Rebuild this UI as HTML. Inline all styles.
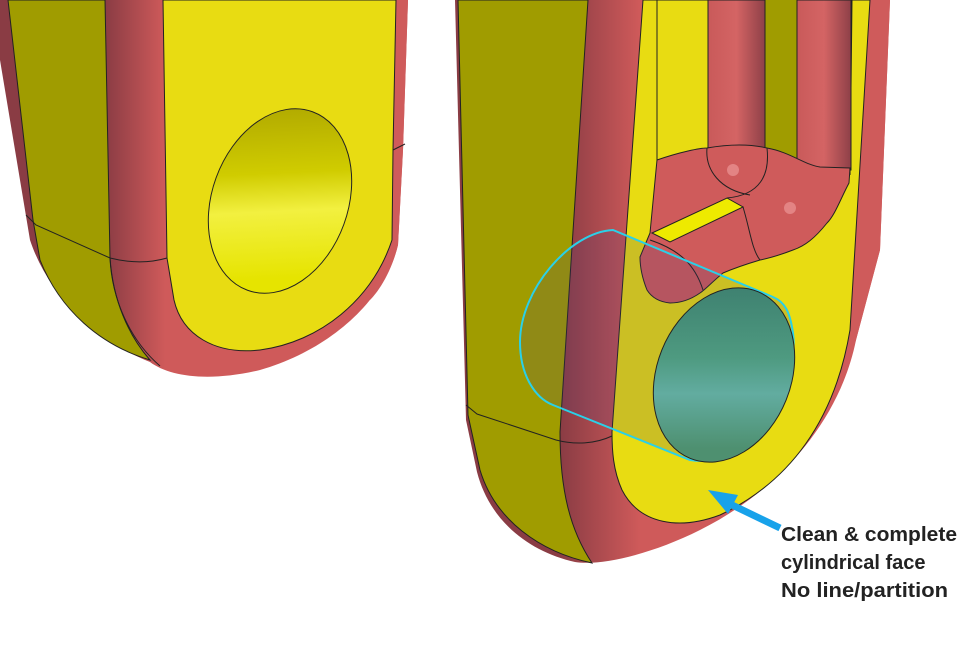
<!DOCTYPE html>
<html><head><meta charset="utf-8"><style>
html,body{margin:0;padding:0;background:#fff;}
svg{display:block;}
</style></head><body>
<svg width="960" height="670" viewBox="0 0 960 670" xmlns="http://www.w3.org/2000/svg">
<defs>
<linearGradient id="rl" gradientUnits="userSpaceOnUse" x1="105" y1="0" x2="165" y2="0">
<stop offset="0" stop-color="#8a3c44"/><stop offset="1" stop-color="#cf5a5a"/></linearGradient>
<linearGradient id="rr" gradientUnits="userSpaceOnUse" x1="560" y1="0" x2="640" y2="0">
<stop offset="0" stop-color="#8a3c44"/><stop offset="1" stop-color="#cf5a5a"/></linearGradient>
<linearGradient id="hl" x1="0" y1="0" x2="0.3" y2="1">
<stop offset="0" stop-color="#a8a000"/><stop offset="0.45" stop-color="#d0cc00"/><stop offset="0.65" stop-color="#f2f040"/><stop offset="1" stop-color="#e6e400"/></linearGradient>
<linearGradient id="hr" x1="0" y1="0" x2="0.3" y2="1">
<stop offset="0" stop-color="#3a7a6c"/><stop offset="0.5" stop-color="#4e9a80"/><stop offset="0.7" stop-color="#62aca0"/><stop offset="1" stop-color="#4e9070"/></linearGradient>
<linearGradient id="tube" x1="0" y1="0" x2="1" y2="0">
<stop offset="0" stop-color="#c95a5a"/><stop offset="0.5" stop-color="#d46464"/><stop offset="1" stop-color="#8e4048"/></linearGradient>
</defs>

<!-- LEFT BODY -->
<path d="M0,0 L408,0 L403,150 L398,245 C385,300 330,350 260,370 C210,382 170,377 150,362 C100,342 50,300 30,240 L0,60 Z" fill="url(#rl)"/>
<path d="M397,0 L408,0 L403,150 L398,245 C392,270 380,290 370,300 L392,240 Z" fill="#cf5b5b"/>
<path d="M8,0 L105,0 L110,258 C113,300 128,335 150,360 C100,345 60,310 40,260 L33,220 Z" fill="#a09c00" stroke="#222" stroke-width="1"/>
<path d="M163,0 L396,0 L393,150 L392,240 C372,300 320,342 260,350 C215,355 182,335 174,300 L167,258 Z" fill="#e8dc12" stroke="#222" stroke-width="1"/>
<path d="M26,215 L36,225 L110,258 C130,263 150,263 167,258" fill="none" stroke="#222" stroke-width="1"/>
<path d="M393,150 L405,144" fill="none" stroke="#222" stroke-width="1"/>
<path d="M110,258 C112,300 130,340 160,366" fill="none" stroke="#222" stroke-width="1"/>
<ellipse cx="280" cy="201" rx="68" ry="95" transform="rotate(20 280 201)" fill="url(#hl)" stroke="#222" stroke-width="1"/>

<!-- RIGHT BODY -->
<path d="M455,0 L890,0 L880,250 L856,340 C840,420 780,490 700,530 C650,555 600,566 575,562 C530,552 490,522 477,472 L466,420 Z" fill="url(#rr)"/>
<path d="M868,0 L890,0 L880,250 L856,340 C845,380 830,410 815,430 L848,330 Z" fill="#cf5b5b"/>
<path d="M458,0 L588,0 L560,432 C560,490 570,530 592,563 C540,552 495,520 480,470 L468,415 Z" fill="#a09c00" stroke="#222" stroke-width="1"/>
<path d="M466,405 L477,414 L556,440 C575,445 595,444 612,436" fill="none" stroke="#222" stroke-width="1"/>
<path d="M643,0 L870,0 L850,330 C835,420 790,482 720,515 C680,530 640,525 622,490 C613,470 612,450 612,432 Z" fill="#e8dc12" stroke="#222" stroke-width="1"/>
<!-- slot -->
<path d="M657,0 L657,235 M852,0 L850,175" fill="none" stroke="#222" stroke-width="1"/>
<rect x="765" y="0" width="32" height="170" fill="#a09c00"/>
<rect x="708" y="0" width="57" height="160" fill="url(#tube)" stroke="#222" stroke-width="1"/>
<rect x="797" y="0" width="54" height="170" fill="url(#tube)" stroke="#222" stroke-width="1"/>
<path d="M657,160 C680,152 700,148 707,148 C730,144 750,144 767,148 C790,152 805,165 820,167 L850,168 L849,183 C840,200 835,215 827,223 C815,238 805,246 793,250 C780,255 770,258 760,260 C740,266 730,270 723,273 C712,282 705,290 700,293 C690,300 680,303 670,303 C660,302 652,298 647,290 C641,275 640,265 640,257 L650,233 Z" fill="#cf5b5b" stroke="#222" stroke-width="1"/>
<path d="M652,233 L727,198 L743,207 L670,242 Z" fill="#eeea00" stroke="#222" stroke-width="1"/>
<path d="M707,148 C705,170 720,190 750,195 M767,148 C770,175 760,195 727,198 M743,207 C750,230 752,250 760,260 M650,240 C680,250 695,265 703,290" fill="none" stroke="#222" stroke-width="1"/>
<circle cx="733" cy="170" r="6" fill="#f0a0a0" opacity="0.6"/>
<circle cx="790" cy="208" r="6" fill="#f0a0a0" opacity="0.6"/>

<!-- cyan selected face -->
<path d="M613,230 C570,232 520,290 520,342 C520,375 535,398 553,405 L690,460 C750,470 800,385 793,333 C790,312 785,302 773,297 Z" fill="rgba(70,60,120,0.18)" stroke="#2ad0e8" stroke-width="2"/>
<ellipse cx="724" cy="375" rx="67" ry="90" transform="rotate(22 724 375)" fill="url(#hr)" stroke="#222" stroke-width="1"/>

<!-- arrow -->
<line x1="780" y1="528" x2="728" y2="503" stroke="#18a2ea" stroke-width="7"/>
<polygon points="708,490 738,495 728,514" fill="#18a2ea"/>

<g font-family="'Liberation Sans', sans-serif" font-weight="bold" font-size="20" fill="#222">
<text x="781" y="541" textLength="176" lengthAdjust="spacingAndGlyphs">Clean &amp; complete</text>
<text x="781" y="569">cylindrical face</text>
<text x="781" y="597" textLength="167" lengthAdjust="spacingAndGlyphs">No line/partition</text>
</g>
</svg>
</body></html>
